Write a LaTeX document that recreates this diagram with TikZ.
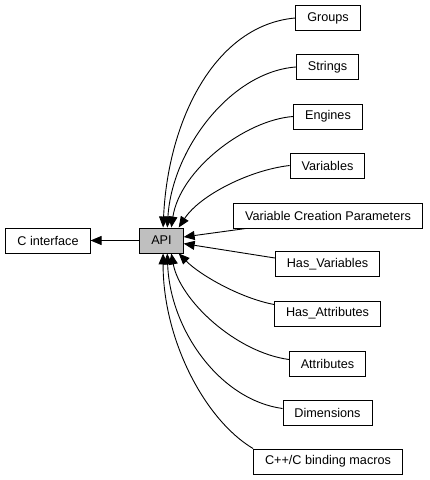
\documentclass[tikz,border=0pt]{standalone}
\usepackage{fontspec}
\setmainfont{Liberation Sans}
\usepackage{tikz}
\usetikzlibrary{arrows.meta}
\tikzset{
    module/.style={draw, line width=0.9bp, fill=white, minimum height=25bp, inner xsep=11.5bp, inner ysep=0bp, font=\fontsize{12.7}{15}\selectfont},
    current/.style={module, fill=black!25},
    link/.style={line width=0.9bp, -{Triangle[length=11bp,width=9bp]}}
}
\newcommand{\drawModule}[4]{
    \node[module] (#1) at (#2,#3) {#4}
}
\newcommand{\drawLink}[4]{
    \draw[link] (#1) .. controls (#2) and (#3) .. (#4)
}

\begin{document}
\begin{tikzpicture}[x=1bp,y=-1bp]
            \useasboundingbox (0,0) rectangle (429,480);

            \node[module] (cif) at (48,240.5) {C interface};
            \node[current] (api) at (161.5,240.5) {API};

            \drawModule{groups}{328}{18}{Groups};
            \drawModule{strings}{327.5}{67}{Strings};
            \drawModule{engines}{328}{116.5}{Engines};
            \drawModule{vars}{327.5}{165.5}{Variables};
            \drawModule{vcp}{328}{215.5}{Variable Creation Parameters};
            \drawModule{hasvars}{327.5}{264}{Has\_Variables};
            \drawModule{hasattrs}{327.5}{313.5}{Has\_Attributes};
            \drawModule{attrs}{327.5}{363.5}{Attributes};
            \drawModule{dims}{327.5}{412.5}{Dimensions};
            \drawModule{binding}{328}{461.5}{C++/C binding macros};

            \draw[link] (api.west) -- (cif.east);

            \drawLink{groups.west}{215,25}{168,120}{api.83};
            \drawLink{strings.west}{230,72}{172,150}{api.66};
            \drawLink{engines.west}{245,120}{180,170}{api.53};
            \drawLink{vars.west}{250,170}{200,195}{api.37};
            \draw[link] ([xshift=13bp]vcp.south west) -- (api.9);
            \draw[link] ([yshift=6bp]hasvars.west) -- (api.-8);
            \drawLink{[yshift=9bp]hasattrs.west}{240,298}{200,275}{api.-37};
            \drawLink{[yshift=4bp]attrs.west}{235,352}{180,300}{api.-53};
            \drawLink{[yshift=4bp]dims.west}{220,400}{170,330}{api.-66};
            \drawLink{binding.north west}{205,420}{163,340}{api.-83};

        \end{tikzpicture}
\end{document}
